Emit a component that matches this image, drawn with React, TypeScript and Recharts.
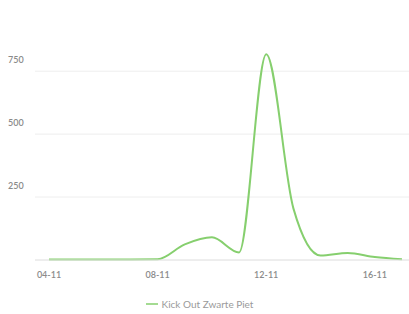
import { LineChart, Line, XAxis, YAxis, CartesianGrid, Legend } from 'recharts'

const days = ['04-11', '05-11', '06-11', '07-11', '08-11', '09-11', '10-11', '11-11', '12-11', '13-11', '14-11', '15-11', '16-11', '17-11']
const kickOut = [2, 2, 2, 2, 3, 62, 90, 30, 817, 205, 18, 28, 12, 3]
const yTicks = [0, 250, 500, 750]

const data = days.map((d, i) => ({ day: d, value: kickOut[i] }))

const YTick = (props: any) => {
  const { y, payload } = props
  if (payload.value === 0) return null
  return (
    <text x={8} y={y - 8} fontSize={9} fontWeight={600} fill="#8a8a8a" fontFamily="Lato" textAnchor="start">
      {payload.value}
    </text>
  )
}

export default function App() {
  return (
    <div style={{ position: 'absolute', left: 0, top: 0, background: '#fff' }}>
      <LineChart width={409} height={314} data={data} margin={{ top: 46, right: 0, left: 0, bottom: 2 }}>
        <CartesianGrid vertical={false} stroke="#eeeeee" horizontalValues={yTicks} />
        <XAxis
          dataKey="day"
          interval={3}
          padding={{ left: 14, right: 7 }}
          axisLine={{ stroke: '#e4e4e4' }}
          tickLine={false}
          tick={{ fontSize: 9, fontWeight: 600, fill: '#8a8a8a', fontFamily: 'Lato' }}
          tickMargin={6}
          height={30}
        />
        <YAxis
          domain={[0, 850]}
          ticks={yTicks}
          width={35}
          axisLine={false}
          tickLine={false}
          tick={<YTick />}
        />
        <Legend
          verticalAlign="bottom"
          height={22}
          iconType="plainline"
          iconSize={12}
          wrapperStyle={{ bottom: -2 }}
          formatter={(v) => <span style={{ color: '#9a9a9a', fontSize: 10, fontFamily: 'Lato' }}>{v}</span>}
        />
        <Line
          type="monotone"
          dataKey="value"
          name="Kick Out Zwarte Piet"
          stroke="#86cf6e"
          strokeWidth={2}
          dot={false}
          isAnimationActive={false}
        />
      </LineChart>
    </div>
  )
}
